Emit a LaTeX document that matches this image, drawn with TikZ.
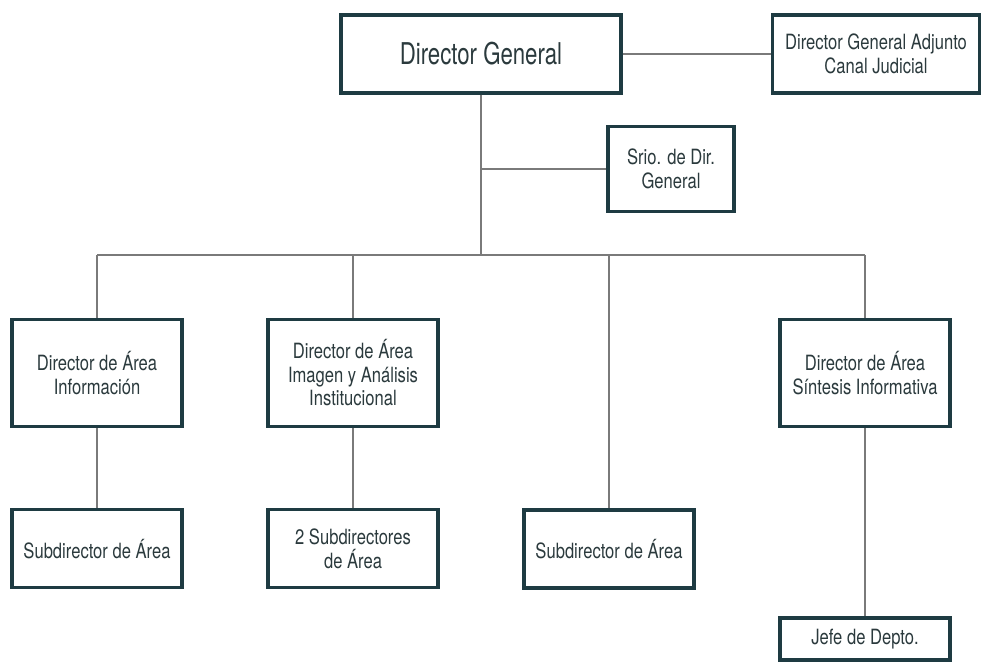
\documentclass[tikz,border=0pt]{standalone}
\usepackage{fontspec}
\setmainfont{TeX Gyre Heros}[FakeStretch=0.79]
\newfontfamily\headfont{TeX Gyre Heros}[FakeStretch=0.74]
\usetikzlibrary{positioning}
\definecolor{boxline}{HTML}{1E3B42}
\definecolor{linkline}{HTML}{7A7A7A}
\definecolor{boxtext}{HTML}{2B3A3D}

\begin{document}
\begin{tikzpicture}[
        x=1pt, y=-1pt,
        node distance=80pt and 0pt,
        post/.style={draw=boxline, line width=3.2pt, fill=white, align=center, text=boxtext, inner sep=0pt, font=\fontsize{21}{23.5}\selectfont},
        head/.style={post, minimum width=280pt, minimum height=78pt, font=\headfont\fontsize{30}{34}\selectfont},
        area/.style={post, minimum width=170pt, minimum height=107pt},
        sub/.style={post, minimum width=170pt, minimum height=78pt},
        link/.style={draw=linkline, line width=1.2pt}
    ]
    \useasboundingbox (0,0) rectangle (982,662);

    % Nodes
    \node[head] (dg) at (481,54) {Director General};
    \node[post, minimum width=207pt, minimum height=78pt] (adj) at (876,54) {Director General Adjunto\\ Canal Judicial};
    \node[post, minimum width=126pt, minimum height=85pt] (srio) at (671,169) {Srio. de Dir.\\ General};

    \node[area] (info) at (97,373) {Director de Área\\ Información};
    \node[area] (imagen) at (353,373) {Director de Área\\ Imagen y Análisis\\ Institucional};
    \node[area] (sintesis) at (865,373) {Director de Área\\ Síntesis Informativa};

    \node[sub, below=of info] (subinfo) {Subdirector de Área};
    \node[sub, below=of imagen] (subimagen) {2 Subdirectores\\ de Área};
    \node[sub] (subcentro) at (609,549) {Subdirector de Área};
    \node[sub, minimum height=42pt] (jefe) at (865,639) {Jefe de Depto.};

    \coordinate (bus) at (482,255);

    % Edges
    \draw[link] (dg.east) -- (adj.west);
    \draw[link] (dg.south) -- (dg.south |- bus);
    \draw[link] (srio.west) -- (srio.west -| dg.south);
    \draw[link] (info.north |- bus) -- (sintesis.north |- bus);
    \draw[link] (info.north |- bus) -- (info.north);
    \draw[link] (imagen.north |- bus) -- (imagen.north);
    \draw[link] (subcentro.north |- bus) -- (subcentro.north);
    \draw[link] (sintesis.north |- bus) -- (sintesis.north);
    \draw[link] (info) -- (subinfo);
    \draw[link] (imagen) -- (subimagen);
    \draw[link] (sintesis) -- (jefe);

\end{tikzpicture}
\end{document}
